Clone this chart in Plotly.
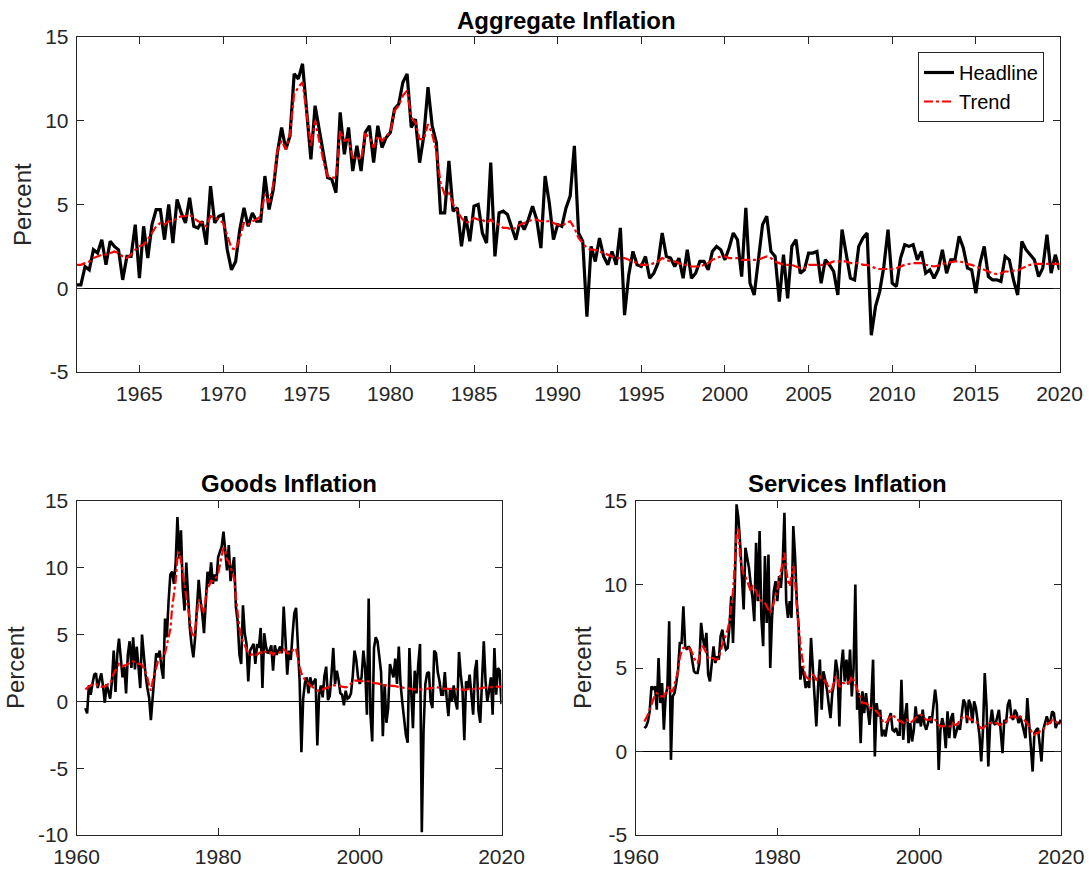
import numpy as np
import plotly.graph_objects as go

# quarterly dates, 1961Q2 .. 2020Q1
dates = np.arange(1961.25, 2020.001, 0.25)

headline = [
    0.2, 0.2, 1.3, 1.1, 2.3, 2.1, 2.9, 1.4, 2.8, 2.5, 2.3, 0.5, 1.9, 1.9, 3.8, 0.6,
    3.7, 1.8, 3.8, 4.7, 4.7, 2.9, 5.0, 2.7, 5.3, 4.5, 3.9, 5.4, 3.7, 3.6, 4.0, 2.6,
    6.1, 3.9, 4.3, 4.4, 2.3, 1.1, 1.6, 3.5, 4.8, 3.7, 4.5, 4.0, 4.0, 6.7, 4.7, 5.9,
    8.1, 9.6, 8.3, 9.1, 12.8, 12.5, 13.4, 10.5, 7.7, 10.9, 9.4, 8.0, 6.6, 6.5, 5.7, 10.5,
    8.0, 9.6, 7.0, 8.5, 7.0, 9.3, 9.7, 7.5, 9.7, 8.4, 9.0, 9.3, 10.7, 11.0, 12.3, 12.8,
    9.6, 10.1, 7.5, 9.1, 12.0, 9.7, 8.7, 4.5, 4.5, 7.6, 4.6, 4.8, 2.5, 4.3, 2.8, 4.9,
    5.0, 3.3, 2.7, 7.5, 1.9, 4.5, 4.6, 4.4, 3.7, 2.9, 4.0, 3.5, 4.1, 4.9, 4.1, 2.4,
    6.7, 5.1, 2.9, 3.8, 3.7, 4.8, 5.5, 8.5, 3.3, 2.8, -1.7, 2.5, 1.6, 3.0, 1.9, 1.4,
    2.2, 1.4, 3.6, -1.6, 0.8, 2.2, 1.4, 1.3, 1.9, 0.6, 0.9, 1.5, 3.3, 1.9, 1.8, 1.3,
    1.8, 0.6, 2.3, 0.6, 0.9, 1.6, 1.6, 1.1, 2.2, 2.5, 2.3, 1.7, 2.4, 3.3, 2.9, 0.7,
    4.8, 0.3, -0.4, 1.8, 3.8, 4.3, 2.2, 1.9, -0.8, 2.0, -0.6, 2.5, 2.9, 0.9, 1.1, 2.1,
    2.1, 2.2, 0.3, 1.7, 1.4, 1.0, -0.4, 3.5, 2.0, 0.6, 0.5, 2.5, 3.0, 3.3, -2.8, -1.1,
    -0.2, 1.3, 3.5, 0.3, 0.1, 1.8, 2.6, 2.5, 2.6, 1.7, 2.2, 0.9, 1.1, 0.6, 1.1, 2.3,
    0.9, 1.7, 1.7, 3.1, 2.4, 1.2, 1.1, -0.3, 1.5, 2.5, 0.7, 0.5, 0.5, 0.4, 1.9, 1.7,
    0.5, -0.4, 2.8, 2.3, 2.0, 1.7, 0.7, 1.2, 3.2, 0.9, 2.0, 1.1,
]
trend = [
    1.4, 1.4, 1.5, 1.6, 1.8, 1.9, 2.0, 2.0, 2.1, 2.2, 2.1, 1.9, 1.8, 2.0, 2.3, 2.5,
    2.6, 2.9, 3.3, 3.7, 3.9, 3.8, 4.0, 4.0, 4.2, 4.3, 4.3, 4.4, 4.2, 4.0, 3.9, 3.7,
    4.3, 4.2, 4.1, 3.9, 3.2, 2.4, 2.3, 3.0, 3.9, 3.8, 4.0, 4.1, 4.3, 5.6, 5.1, 6.2,
    8.2, 8.8, 8.3, 9.2, 11.6, 12.0, 12.3, 10.3, 8.5, 10.0, 8.8, 7.6, 6.7, 6.6, 6.6, 9.4,
    8.8, 8.9, 7.8, 7.8, 7.7, 9.2, 9.0, 8.4, 9.1, 8.8, 9.1, 9.3, 10.6, 10.9, 11.5, 11.8,
    10.2, 9.9, 8.9, 8.9, 9.8, 9.2, 8.2, 6.3, 5.6, 5.7, 5.0, 4.6, 4.2, 3.9, 4.0, 4.2,
    4.1, 4.1, 3.9, 4.1, 3.9, 3.8, 3.6, 3.6, 3.5, 3.6, 3.8, 3.9, 4.0, 4.1, 4.1, 4.0,
    4.0, 4.0, 3.9, 3.8, 3.7, 3.9, 4.0, 3.6, 3.0, 2.7, 2.4, 2.3, 2.3, 2.2, 2.1, 2.0,
    1.9, 1.8, 1.8, 1.8, 1.7, 1.6, 1.5, 1.4, 1.4, 1.4, 1.5, 1.6, 1.8, 1.7, 1.6, 1.6,
    1.5, 1.4, 1.4, 1.3, 1.3, 1.3, 1.4, 1.5, 1.7, 1.8, 1.9, 1.9, 1.8, 1.8, 1.8, 1.7,
    1.7, 1.7, 1.7, 1.7, 1.8, 1.9, 1.8, 1.6, 1.5, 1.4, 1.4, 1.4, 1.3, 1.2, 1.2, 1.4,
    1.4, 1.4, 1.4, 1.4, 1.5, 1.6, 1.6, 1.6, 1.6, 1.5, 1.5, 1.5, 1.4, 1.4, 1.3, 1.2,
    1.15, 1.15, 1.15, 1.15, 1.2, 1.3, 1.4, 1.45, 1.5, 1.5, 1.5, 1.4, 1.35, 1.3, 1.35, 1.45,
    1.5, 1.55, 1.6, 1.6, 1.55, 1.45, 1.4, 1.3, 1.2, 1.1, 1.0, 0.9, 0.85, 0.9, 1.0, 1.0,
    1.05, 1.05, 1.2, 1.3, 1.4, 1.45, 1.45, 1.45, 1.45, 1.45, 1.45, 1.45,
]

goods = [
    -0.5, -0.9, 1.2, 0.5, 1.3, 2.0, 2.1, 1.0, 1.6, 2.1, 1.1, -0.1, 1.3, 0.6, 0.2, 1.5,
    3.8, 0.7, 3.5, 4.7, 3.3, 1.8, 2.6, 0.6, 3.5, 4.5, 2.5, 4.8, 2.4, 4.1, 2.6, 1.0,
    5.0, 3.1, 2.0, 1.0, 0.3, -1.4, 0.4, 2.3, 3.6, 3.3, 3.8, 2.5, 1.7, 6.2, 4.8, 7.5,
    9.5, 9.7, 8.8, 10.4, 13.8, 10.7, 12.8, 8.5, 6.8, 10.4, 7.7, 5.5, 4.2, 3.3, 4.8, 7.0,
    9.1, 7.6, 6.6, 5.1, 8.0, 9.7, 8.8, 10.4, 8.8, 9.5, 9.0, 10.8, 11.2, 11.6, 12.7, 11.0,
    9.8, 11.7, 9.0, 10.0, 10.8, 7.1, 6.0, 3.5, 2.8, 7.2, 5.1, 4.3, 1.5, 3.8, 4.0, 4.3,
    2.8, 4.3, 4.0, 5.5, 1.0, 5.1, 4.1, 3.6, 3.8, 4.2, 2.3, 4.2, 3.5, 3.8, 4.1, 3.6,
    7.1, 4.7, 2.0, 3.8, 3.1, 5.0, 6.6, 7.0, 4.0, 1.5, -3.8, 0.2, 1.4, 1.8, 0.6, 1.8,
    1.2, 1.4, 1.7, -3.3, 0.5, 1.2, 0.3, 1.9, 2.6, 0.1, 0.4, 2.0, 4.0, 1.3, 2.3, 1.6,
    0.6, 0.5, -0.3, 0.8, 0.2, 0.3, 0.6, 1.9, 3.8, 3.1, 1.8, 1.3, 1.8, 3.8, 2.5, -1.0,
    7.7, -1.0, -3.0, 4.0, 4.8, 4.5, 3.5, 2.2, -2.6, 1.3, -1.6, -0.5, 2.8, 2.2, 1.8, 3.2,
    1.3, 4.1, 1.3, -0.1, -1.2, -2.5, -3.1, 4.0, 0.8, -2.0, 2.3, 0.6, 2.8, 4.3, -9.8, -2.1,
    1.3, 2.1, 2.2, 0.0, -0.5, 3.8, 3.6, 2.2, 1.5, 0.5, 0.5, 2.2, 0.3, -1.1, 1.0, 0.0,
    1.2, 0.0, -0.6, 3.7, 2.0, 0.8, -2.9, 1.5, 0.9, 2.0, 0.5, -1.0, 2.3, 3.1, -0.7, -1.6,
    1.5, 4.5, 1.5, 0.0, 0.8, 1.8, -1.0, 4.0, 0.5, 2.5, 2.3, -0.2,
]
goods_trend = [
    0.9, 1.0, 1.1, 1.2, 1.3, 1.3, 1.3, 1.2, 1.2, 1.1, 1.1, 1.1, 1.2, 1.3, 1.3, 1.7,
    2.1, 2.3, 2.6, 2.8, 2.7, 2.6, 2.7, 2.7, 2.8, 2.9, 3.0, 3.0, 2.9, 2.9, 2.8, 2.8,
    2.7, 2.5, 2.2, 1.8, 1.2, 0.8, 1.5, 2.0, 2.6, 3.0, 3.1, 3.2, 3.4, 3.6, 4.2, 4.8,
    5.4, 7.0, 8.2, 9.0, 10.8, 11.2, 10.5, 9.5, 8.5, 7.8, 7.0, 6.0, 5.2, 4.8, 5.4, 6.5,
    7.6, 7.4, 7.0, 6.6, 7.8, 8.5, 8.7, 9.0, 9.0, 9.2, 9.3, 9.6, 10.3, 11.0, 11.5, 11.2,
    10.6, 10.5, 10.0, 9.6, 9.2, 7.8, 6.6, 5.5, 4.8, 4.5, 4.2, 3.9, 3.6, 3.5, 3.5, 3.6,
    3.5, 3.5, 3.6, 3.7, 3.5, 3.7, 3.7, 3.6, 3.6, 3.7, 3.5, 3.6, 3.6, 3.6, 3.7, 3.7,
    3.9, 3.8, 3.6, 3.6, 3.6, 3.8, 4.0, 3.9, 3.2, 2.6, 2.1, 1.8, 1.6, 1.5, 1.3, 1.2,
    1.1, 1.0, 0.9, 0.8, 0.8, 0.85, 0.9, 1.0, 1.05, 1.1, 1.1, 1.1, 1.2, 1.2, 1.2, 1.2,
    1.15, 1.1, 1.05, 1.05, 1.1, 1.2, 1.35, 1.45, 1.55, 1.55, 1.55, 1.55, 1.5, 1.55, 1.55, 1.5,
    1.5, 1.45, 1.4, 1.4, 1.35, 1.35, 1.3, 1.3, 1.25, 1.2, 1.2, 1.2, 1.15, 1.15, 1.15, 1.15,
    1.1, 1.1, 1.1, 1.05, 1.0, 1.0, 0.95, 1.0, 0.95, 0.9, 0.9, 0.9, 0.9, 0.9, 0.85, 0.85,
    0.9, 0.95, 1.0, 1.0, 1.0, 1.05, 1.1, 1.05, 1.05, 1.0, 0.95, 0.95, 0.9, 0.9, 0.9, 0.9,
    0.9, 0.9, 0.9, 0.95, 0.95, 0.9, 0.85, 0.9, 0.9, 0.95, 0.9, 0.9, 0.95, 1.0, 0.95, 0.95,
    1.0, 1.05, 1.05, 1.05, 1.05, 1.1, 1.1, 1.1, 1.1, 1.1, 1.1, 1.1,
]

services = [
    1.4, 1.5, 1.8, 2.4, 3.9, 3.7, 3.9, 2.5, 5.6, 2.9, 4.1, 1.3, 3.3, 3.9, 7.8, -0.5,
    3.3, 3.5, 4.1, 4.9, 6.5, 6.5, 8.7, 6.3, 6.1, 6.3, 6.1, 5.5, 4.8, 4.7, 4.7, 5.3,
    7.7, 6.8, 6.2, 7.1, 4.6, 4.2, 5.5, 6.3, 5.3, 5.7, 5.5, 6.9, 7.3, 6.5, 6.1, 6.2,
    7.5, 9.3, 6.5, 9.8, 14.8, 14.0, 12.5, 10.8, 8.5, 12.2, 11.6, 11.0, 10.0, 9.2, 7.8, 12.5,
    9.0, 13.2, 8.0, 6.3, 11.7, 7.7, 11.8, 5.0, 8.0, 9.6, 10.2, 9.0, 10.5, 9.8, 11.2, 14.3,
    9.0, 8.0, 9.0, 8.0, 13.5, 11.7, 8.9, 7.5, 4.3, 5.1, 4.6, 3.8, 4.2, 3.8, 6.8, 5.0,
    3.9, 1.5, 3.9, 5.5, 2.5, 4.8, 4.3, 3.7, 2.8, 2.0, 3.5, 4.1, 5.5, 4.8, 1.5, 5.0,
    6.1, 4.2, 5.5, 4.0, 6.1, 3.3, 5.0, 10.0, 2.5, 3.5, 0.5, 3.6, 2.3, 3.5, 2.5, 1.6,
    3.0, 5.5, -0.3, 2.9, 2.1, 2.5, 0.9, 1.3, 0.9, 1.6, 2.0, 2.3, 1.3, 1.2, 1.4, 1.0,
    1.0, 4.3, 0.7, 2.1, 2.9, 0.5, 1.7, 0.6, 1.3, 2.7, 1.7, 2.2, 1.5, 2.5, 1.6, 1.3,
    1.7, 2.1, 1.7, 2.9, 3.7, 2.8, -1.1, 1.3, 2.0, 1.5, 0.2, 2.4, 0.8, 2.0, 2.3, 0.8,
    1.2, 1.6, 1.3, 2.1, 3.1, 2.9, 1.7, 3.1, 2.8, 1.7, 3.0, 2.6, 1.8, 1.0, -0.6, 1.3,
    4.7, 2.7, -0.9, 1.6, 2.5, 1.7, 1.6, 2.0, 2.5, 1.2, -0.1, 1.9, 1.7, 2.8, 3.1, 2.1,
    1.9, 2.5, 2.3, 1.7, 2.1, 1.7, 1.3, 0.8, 3.2, 1.6, 0.5, -1.2, 1.1, 1.3, 1.4, 0.5,
    -0.6, 1.3, 1.7, 2.1, 1.7, 1.8, 2.4, 2.3, 1.4, 1.7, 1.7, 1.9,
]
services_trend = [
    1.8, 2.0, 2.2, 2.5, 2.8, 3.1, 3.4, 3.5, 3.4, 3.3, 3.3, 3.3, 3.5, 3.8, 3.9, 3.6,
    3.6, 4.0, 4.4, 4.8, 5.6, 6.0, 6.2, 6.2, 6.2, 6.2, 6.1, 5.9, 5.6, 5.4, 5.3, 5.6,
    6.3, 6.3, 6.1, 5.9, 5.6, 5.5, 5.6, 5.6, 5.5, 5.5, 5.6, 6.1, 6.4, 6.7, 7.0, 7.3,
    7.8, 8.6, 9.6, 11.2, 13.0, 13.4, 11.7, 11.0, 10.6, 10.5, 10.2, 9.9, 9.6, 9.9, 9.8, 9.6,
    9.3, 9.1, 9.0, 9.0, 8.9, 8.7, 8.5, 8.3, 8.6, 8.9, 9.4, 9.7, 10.2, 10.8, 11.5, 11.9,
    10.9, 10.2, 9.9, 10.4, 11.1, 10.2, 8.7, 7.5, 6.4, 5.6, 4.9, 4.5, 4.4, 4.2, 4.5, 4.6,
    4.5, 4.3, 4.4, 4.5, 4.3, 4.3, 4.2, 4.1, 3.7, 3.5, 3.8, 4.2, 4.5, 4.3, 3.9, 3.9,
    4.1, 4.1, 4.2, 4.1, 4.2, 4.5, 4.3, 4.0, 3.7, 3.5, 3.2, 2.9, 2.9, 2.9, 2.8, 2.6,
    2.6, 2.6, 2.5, 2.4, 2.3, 2.1, 1.9, 1.7, 1.7, 1.8, 2.0, 2.1, 2.2, 2.1, 1.9, 1.9,
    1.8, 1.8, 1.7, 1.8, 1.9, 1.8, 1.7, 1.8, 1.9, 2.0, 2.1, 2.2, 2.2, 2.1, 2.0, 1.9,
    1.9, 1.9, 2.0, 2.0, 1.9, 1.8, 1.6, 1.5, 1.5, 1.55, 1.5, 1.5, 1.5, 1.5, 1.7, 1.6,
    1.6, 1.7, 1.9, 2.0, 2.1, 2.1, 2.1, 2.0, 1.9, 1.9, 1.9, 1.8, 1.7, 1.5, 1.4, 1.4,
    1.5, 1.6, 1.7, 1.7, 1.7, 1.7, 1.7, 1.7, 1.6, 1.6, 1.7, 1.7, 1.8, 1.9, 2.0, 2.1,
    2.1, 2.1, 2.0, 2.1, 2.1, 2.0, 1.9, 1.8, 1.7, 1.5, 1.3, 1.0, 1.0, 1.1, 1.1, 1.2,
    1.2, 1.3, 1.5, 1.6, 1.7, 1.7, 1.9, 1.9, 1.8, 1.7, 1.7, 1.7,
]

FONT = "Liberation Sans, Arial, Helvetica, sans-serif"
AX = "#262626"
W, H = 1089, 873

fig = go.Figure()

panels = [
    ("x", "y", headline, trend, 3.2, True),
    ("x2", "y2", goods, goods_trend, 2.6, False),
    ("x3", "y3", services, services_trend, 2.6, False),
]
for xa, ya, h, t, lw, show in panels:
    fig.add_trace(go.Scatter(x=dates, y=h, mode="lines", name="Headline",
                             line=dict(color="black", width=lw),
                             xaxis=xa, yaxis=ya, showlegend=show))
    fig.add_trace(go.Scatter(x=dates, y=t, mode="lines", name="Trend",
                             line=dict(color="red", width=2.2, dash="dashdot"),
                             xaxis=xa, yaxis=ya, showlegend=show))


# helpers: pixels -> paper fractions
def sx(p):
    return p / W


def sy(p):
    return (H - p) / H


def px_x(a, b):
    return [sx(a), sx(b)]


def px_y(top, bottom):
    return [sy(bottom), sy(top)]


def yticks(vals):
    return dict(tickvals=vals, ticktext=[str(v) for v in vals])


common = dict(showline=True, linecolor=AX, linewidth=1, mirror="ticks",
              ticks="inside", ticklen=7, tickcolor=AX, showgrid=False,
              automargin=False, ticklabelstandoff=3,
              tickfont=dict(family=FONT, size=21, color=AX))
zl = dict(zeroline=True, zerolinecolor="black", zerolinewidth=1)

fig.update_layout(
    xaxis=dict(domain=px_x(76.7, 1059.5), anchor="y", range=[1961.25, 2020],
               tickvals=list(range(1965, 2021, 5)), zeroline=False, **common),
    yaxis=dict(domain=px_y(37, 372), anchor="x", range=[-5, 15],
               **yticks([-5, 0, 5, 10, 15]), **zl, **common),
    xaxis2=dict(domain=px_x(76.5, 501.5), anchor="y2", range=[1960, 2020],
                tickvals=[1960, 1980, 2000, 2020], zeroline=False, **common),
    yaxis2=dict(domain=px_y(501, 835), anchor="x2", range=[-10, 15],
                **yticks([-10, -5, 0, 5, 10, 15]), **zl, **common),
    xaxis3=dict(domain=px_x(635.5, 1061), anchor="y3", range=[1960, 2020],
                tickvals=[1960, 1980, 2000, 2020], zeroline=False, **common),
    yaxis3=dict(domain=px_y(501, 835), anchor="x3", range=[-5, 15],
                **yticks([-5, 0, 5, 10, 15]), **zl, **common),
    width=W, height=H,
    margin=dict(l=0, r=0, t=0, b=0, autoexpand=False),
    paper_bgcolor="white", plot_bgcolor="white",
    font=dict(family=FONT, color="black"),
    legend=dict(x=sx(1044), xanchor="right", y=sy(52), yanchor="top",
                bordercolor=AX, borderwidth=1, bgcolor="white",
                font=dict(family=FONT, size=20, color="black"), tracegroupgap=0),
)

titles = [
    ("Aggregate Inflation", 566.5, 20),
    ("Goods Inflation", 289, 483),
    ("Services Inflation", 848, 483),
]
for txt, cx, cy in titles:
    fig.add_annotation(text="<b>%s</b>" % txt, x=sx(cx), y=sy(cy),
                       xref="paper", yref="paper", showarrow=False,
                       xanchor="center", yanchor="middle",
                       font=dict(family=FONT, size=24, color="black"))

ylabels = [(22.5, 204.5), (15, 668), (582, 668)]
for cx, cy in ylabels:
    fig.add_annotation(text="Percent", x=sx(cx), y=sy(cy),
                       xref="paper", yref="paper", showarrow=False, textangle=-90,
                       xanchor="center", yanchor="middle",
                       font=dict(family=FONT, size=24, color=AX))

# drop the default 8px page margin so the figure fills the window
fig.write_html("out.html", config={"displayModeBar": False},
               post_script="document.body.style.margin='0';")
